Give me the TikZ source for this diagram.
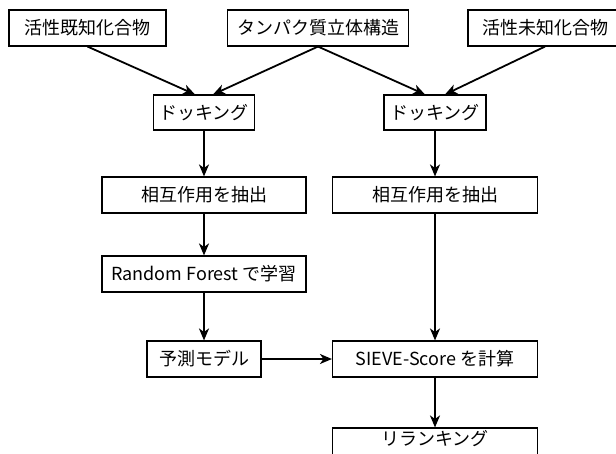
\documentclass[tikz,border=0pt]{standalone}
\usepackage{fontspec}
\setmainfont{Noto Sans CJK JP}
\usetikzlibrary{arrows.meta}
\begin{document}
\begin{tikzpicture}[x=1pt,y=-1pt,
  box/.style={draw=black, line width=1.1pt, fill=white, minimum height=36pt, inner sep=0pt, font=\fontsize{18}{20}\selectfont},
  arr/.style={line width=1.8pt, -{Stealth[length=12pt,width=10pt,inset=3.5pt]}}]
\useasboundingbox (0,0) rectangle (616,453);
\fill[white] (0,0) rectangle (616,453);
\node[box, minimum width=157pt] (k1) at (87.5,28) {活性既知化合物};
\node[box, minimum width=181pt] (k2) at (318,28) {タンパク質立体構造};
\node[box, minimum width=154pt] (k3) at (545,28) {活性未知化合物};
\node[box, minimum width=101pt, minimum height=35pt] (d1) at (204,112.5) {ドッキング};
\node[box, minimum width=102pt, minimum height=35pt] (d2) at (435,112.5) {ドッキング};
\node[box, minimum width=204pt] (s1) at (204,195) {相互作用を抽出};
\node[box, minimum width=205pt] (s2) at (435,195) {相互作用を抽出};
\node[box, minimum width=204pt] (rf) at (204,274) {Random Forest で学習};
\node[box, minimum width=114pt] (yo) at (204,359) {予測モデル};
\node[box, minimum width=205pt] (sv) at (435,359) {SIEVE-Score を計算};
\node[box, minimum width=205pt, text height=17pt, text depth=19pt] (rr) at (435,446) {リランキング};
\draw[arr] (k1.south) -- ([xshift=-9pt]d1.north);
\draw[arr] (k2.south) -- ([xshift=9pt]d1.north);
\draw[arr] (k2.south) -- ([xshift=-10pt]d2.north);
\draw[arr] (k3.south) -- ([xshift=10pt]d2.north);
\draw[arr] (d1.south) -- (d1.south |- s1.north);
\draw[arr] (d2.south) -- (d2.south |- s2.north);
\draw[arr] (s1.south) -- (s1.south |- rf.north);
\draw[arr] (rf.south) -- (rf.south |- yo.north);
\draw[arr] (s2.south) -- (s2.south |- sv.north);
\draw[arr] (yo.east) -- (sv.west);
\draw[arr] (sv.south) -- (rr.north);
\end{tikzpicture}
\end{document}
